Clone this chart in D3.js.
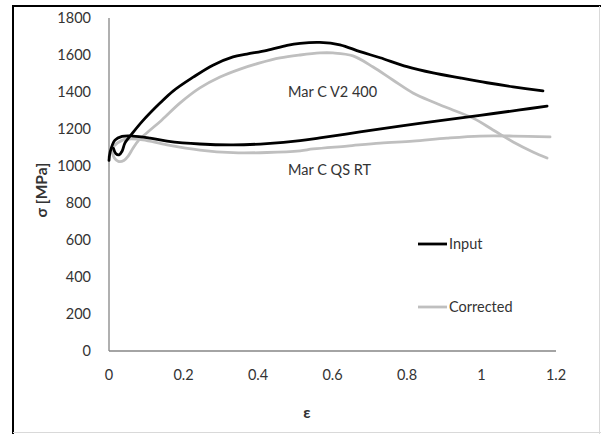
<!DOCTYPE html>
<head>
<meta charset="utf-8">
<style>
  body { margin: 0; background: #fff; }
  svg { display: block; }
  text { font-family: Lato, "Open Sans", sans-serif; fill: #333; }
</style>
</head>
<body>
<svg width="601" height="434"></svg>
<script src="https://d3js.org/d3.v7.min.js"></script>
<script>
// strain / stress values
var xTicks = [0, 0.2, 0.4, 0.6, 0.8, 1, 1.2];
var yTicks = [0, 200, 400, 600, 800, 1000, 1200, 1400, 1600, 1800];

var v2Input = [[0.012,1095],[0.018,1068],[0.027,1060],[0.035,1080],[0.043,1125],[0.064,1180],[0.091,1245],
  [0.137,1340],[0.172,1405],[0.226,1480],[0.279,1545],[0.333,1590],[0.37,1605],[0.424,1625],[0.478,1652],
  [0.513,1663],[0.566,1668],[0.62,1655],[0.674,1618],[0.728,1585],[0.8,1537],[0.87,1503],[0.942,1476],
  [1.015,1450],[1.085,1428],[1.165,1406]];
var v2Corrected = [[0.008,1080],[0.014,1045],[0.025,1025],[0.04,1030],[0.052,1055],[0.064,1095],[0.08,1140],
  [0.102,1180],[0.142,1249],[0.191,1341],[0.244,1422],[0.298,1481],[0.352,1524],[0.405,1557],[0.459,1584],
  [0.513,1600],[0.566,1611],[0.601,1611],[0.655,1595],[0.709,1535],[0.762,1465],[0.816,1395],[0.87,1346],
  [0.923,1303],[0.977,1259],[1.031,1195],[1.085,1130],[1.138,1076],[1.176,1043]];
var qsInput = [[0,1030],[0.003,1075],[0.016,1140],[0.035,1160],[0.064,1162],[0.11,1151],[0.156,1135],
  [0.244,1119],[0.333,1114],[0.424,1121],[0.513,1137],[0.566,1152],[0.674,1184],[0.781,1216],[0.889,1245],
  [0.996,1274],[1.103,1303],[1.176,1324]];
var qsCorrected = [[0,1049],[0.011,1103],[0.038,1141],[0.056,1146],[0.091,1141],[0.156,1114],[0.244,1086],
  [0.333,1072],[0.424,1073],[0.513,1082],[0.548,1092],[0.639,1108],[0.728,1124],[0.816,1135],[0.907,1151],
  [0.996,1162],[1.085,1162],[1.184,1157]];

var svg = d3.select("svg");

// outer frame of the cropped figure
svg.append("line").attr("x1", 13).attr("x2", 13).attr("y1", 6).attr("y2", 434).attr("stroke", "#000").attr("stroke-width", 2);
svg.append("line").attr("x1", 12).attr("x2", 601).attr("y1", 6).attr("y2", 6).attr("stroke", "#000").attr("stroke-width", 2);
svg.append("line").attr("x1", 599.5).attr("x2", 599.5).attr("y1", 6).attr("y2", 434).attr("stroke", "#d9d9d9");
svg.append("line").attr("x1", 13).attr("x2", 601).attr("y1", 432.5).attr("y2", 432.5).attr("stroke", "#d9d9d9");

var x = d3.scaleLinear().domain([0, 1.2]).range([109, 556]);
var y = d3.scaleLinear().domain([0, 1800]).range([351, 18]);

var g = svg.append("g");

// axes
g.append("line").attr("x1", x(0)).attr("x2", x(1.2)).attr("y1", y(0)).attr("y2", y(0))
  .attr("stroke", "#868686").attr("stroke-width", 1.3);
g.append("line").attr("x1", x(0)).attr("x2", x(0)).attr("y1", y(0)).attr("y2", y(1800))
  .attr("stroke", "#868686").attr("stroke-width", 1.3);

g.selectAll(".yt").data(yTicks).enter().append("text")
  .attr("x", 91).attr("y", function(d) { return y(d); }).attr("dy", "0.36em")
  .attr("text-anchor", "end").attr("font-size", 14.5).text(function(d) { return d; });

g.selectAll(".xt").data(xTicks).enter().append("text")
  .attr("x", function(d) { return x(d); }).attr("y", 375).attr("dy", "0.36em")
  .attr("text-anchor", "middle").attr("font-size", 14.5).text(function(d) { return d; });

svg.append("text").attr("transform", "translate(47,190)rotate(-90)")
  .attr("text-anchor", "middle").attr("font-size", 15.5).attr("font-weight", "bold").text("σ [MPa]");
svg.append("text").attr("x", 307).attr("y", 412).attr("dy", "0.36em")
  .attr("text-anchor", "middle").attr("font-size", 16).attr("font-weight", "bold").text("ε");

var line = d3.line()
  .x(function(d) { return x(d[0]); })
  .y(function(d) { return y(d[1]); })
  .curve(d3.curveCatmullRom);

var series = [
  { data: qsCorrected, color: "#bfbfbf" },
  { data: v2Corrected, color: "#bfbfbf" },
  { data: qsInput, color: "#000" },
  { data: v2Input, color: "#000" }
];
g.selectAll(".curve").data(series).enter().append("path")
  .attr("fill", "none").attr("stroke", function(d) { return d.color; })
  .attr("stroke-width", 2.8).attr("stroke-linejoin", "round").attr("stroke-linecap", "round")
  .attr("d", function(d) { return line(d.data); });

// annotations
g.append("text").attr("x", 288).attr("y", 92).attr("dy", "0.36em").attr("font-size", 14.5).text("Mar C V2 400");
g.append("text").attr("x", 288).attr("y", 170).attr("dy", "0.36em").attr("font-size", 14.5).text("Mar C QS RT");

// legend
var legend = g.selectAll(".lg").data([["Input", "#000", 244], ["Corrected", "#bfbfbf", 307]]).enter().append("g");
legend.append("line").attr("x1", 418).attr("x2", 447)
  .attr("y1", function(d) { return d[2]; }).attr("y2", function(d) { return d[2]; })
  .attr("stroke", function(d) { return d[1]; }).attr("stroke-width", 2.8);
legend.append("text").attr("x", 449).attr("y", function(d) { return d[2]; }).attr("dy", "0.36em")
  .attr("font-size", 14.5).text(function(d) { return d[0]; });
</script>
</body>
